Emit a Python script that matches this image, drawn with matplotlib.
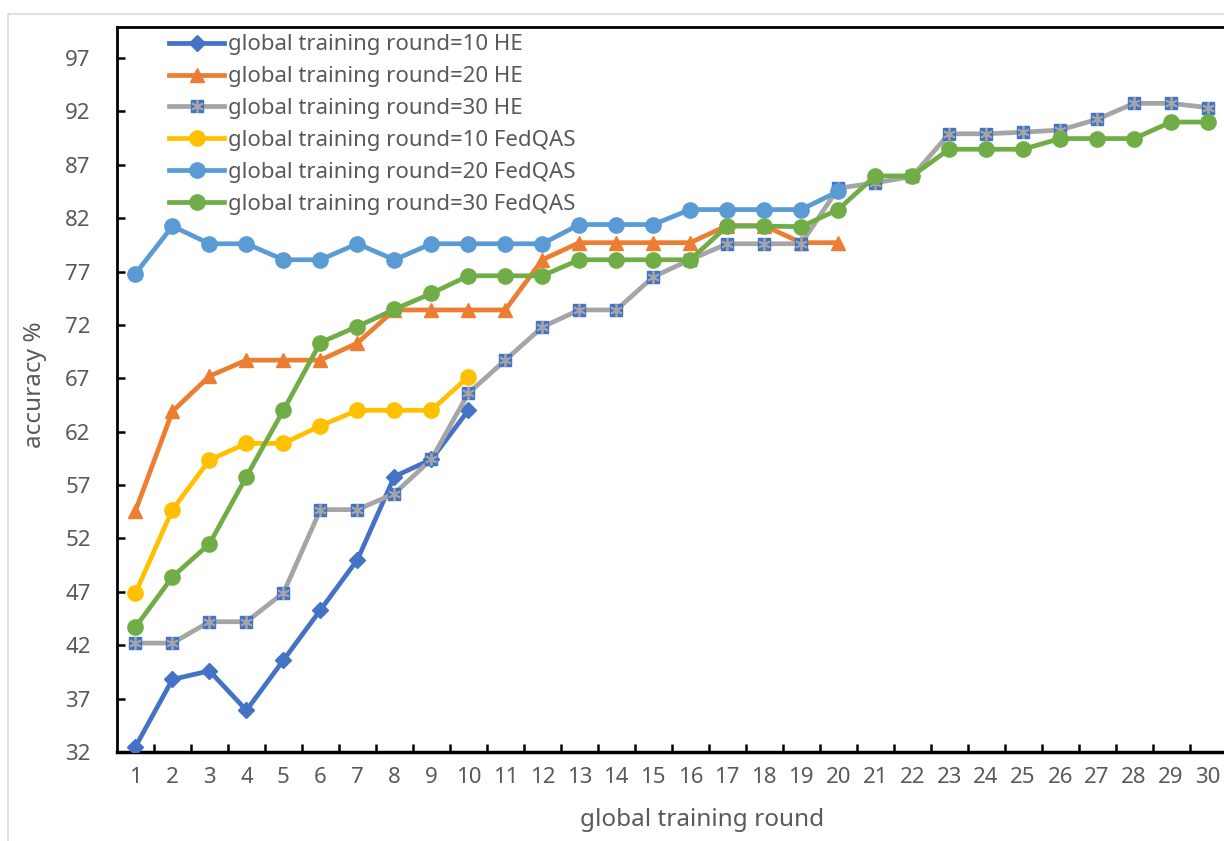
import matplotlib
matplotlib.use("Agg")
import matplotlib.pyplot as plt
from matplotlib.patches import Rectangle

rounds = list(range(1, 31))

he_10 = [32.5, 38.8, 39.6, 35.9, 40.6, 45.3, 50.0, 57.8, 59.4, 64.0]
he_20 = [54.6, 63.9, 67.2, 68.7, 68.7, 68.7, 70.3, 73.4, 73.4, 73.4,
         73.4, 78.1, 79.7, 79.7, 79.7, 79.7, 81.3, 81.3, 79.7, 79.7]
he_30 = [42.2, 42.2, 44.2, 44.2, 46.9, 54.7, 54.7, 56.2, 59.4, 65.6,
         68.7, 71.8, 73.4, 73.4, 76.5, 78.1, 79.6, 79.6, 79.6, 84.8,
         85.3, 85.9, 89.9, 89.9, 90.05, 90.25, 91.25, 92.75, 92.75, 92.35]
fq_10 = [46.9, 54.7, 59.35, 60.9, 60.9, 62.55, 64.0, 64.0, 64.0, 67.15]
fq_20 = [76.8, 81.25, 79.6, 79.6, 78.1, 78.1, 79.6, 78.1, 79.6, 79.6,
         79.6, 79.6, 81.4, 81.4, 81.4, 82.8, 82.8, 82.8, 82.8, 84.5]
fq_30 = [43.7, 48.4, 51.5, 57.8, 64.0, 70.35, 71.85, 73.45, 74.95, 76.6,
         76.6, 76.6, 78.1, 78.1, 78.1, 78.1, 81.25, 81.25, 81.2, 82.8,
         85.95, 85.95, 88.45, 88.45, 88.45, 89.45, 89.45, 89.45, 91.0, 91.0]

labels = ["global training round=10 HE", "global training round=20 HE",
          "global training round=30 HE", "global training round=10 FedQAS",
          "global training round=20 FedQAS", "global training round=30 FedQAS"]
yticks = list(range(32, 98, 5))

plt.rcParams['font.family'] = ['Noto Sans', 'DejaVu Sans']
TXT = '#595959'

fig = plt.figure(figsize=(12.24, 8.41), dpi=100)
fig.patches.append(Rectangle((8/1224, -0.05), 1.2, 1 - 14/841 + 0.05,
                             transform=fig.transFigure, fill=False,
                             edgecolor='#D9D9D9', lw=1.2))
ax = fig.add_axes([117/1224, 1 - 752/841, (1226.5 - 117)/1224, (752 - 27)/841])

lw = 3.4
h1, = ax.plot(rounds[:10], he_10, color='#4472C4', lw=lw, marker='D', ms=8, zorder=3)
h2, = ax.plot(rounds[:20], he_20, color='#ED7D31', lw=lw, marker='^', ms=10.5, zorder=4)
h3, = ax.plot(rounds, he_30, color='#A5A5A5', lw=lw, marker='s', ms=9,
              mfc='#4472C4', mec='#4472C4', zorder=5)
h3b, = ax.plot(rounds, he_30, ls='none', marker=(6, 2, 0), ms=9,
               mec='#A5A5A5', mew=1.3, zorder=5.1)
h4, = ax.plot(rounds[:10], fq_10, color='#FFC000', lw=lw, marker='o', ms=11, zorder=6)
h5, = ax.plot(rounds[:20], fq_20, color='#5B9BD5', lw=lw, marker='o', ms=11, zorder=7)
h6, = ax.plot(rounds, fq_30, color='#70AD47', lw=lw, marker='o', ms=11, zorder=8)

ax.set_xlim(0.5, 30.5)
ax.set_ylim(32, 99.9)
ax.set_yticks(yticks)
ax.set_xticks(rounds)
ax.set_xticks([r + 0.5 for r in rounds[:-1]], minor=True)
ax.tick_params(axis='x', which='major', length=0, pad=11, labelsize=16, labelcolor=TXT)
ax.tick_params(axis='x', which='minor', direction='in', length=6, width=1.8, color='black')
ax.tick_params(axis='y', direction='in', length=6, width=1.8, pad=19,
               labelsize=16, labelcolor=TXT)
for s in ['left', 'top', 'right']:
    ax.spines[s].set_linewidth(2)
ax.spines['bottom'].set_linewidth(2.5)

ax.set_ylabel('accuracy %', fontsize=17.5, color=TXT)
ax.yaxis.set_label_coords((35 - 117) / 1109.5, (752 - 385) / 725)
ax.set_xlabel('global training round', fontsize=17.5, color=TXT)
ax.xaxis.set_label_coords((702 - 117) / 1109.5, -(820 - 752) / 725)
ax.xaxis.label.set_verticalalignment('center')
ax.yaxis.label.set_verticalalignment('center')

leg = ax.legend([h1, h2, (h3, h3b), h4, h5, h6], labels, loc='upper left',
                bbox_to_anchor=(43/1109.5, 1.002), frameon=False, fontsize=16,
                handlelength=2.5, handletextpad=0.15, labelspacing=0.49,
                borderaxespad=0, labelcolor=TXT)

fig.savefig('out.png', dpi=100)
